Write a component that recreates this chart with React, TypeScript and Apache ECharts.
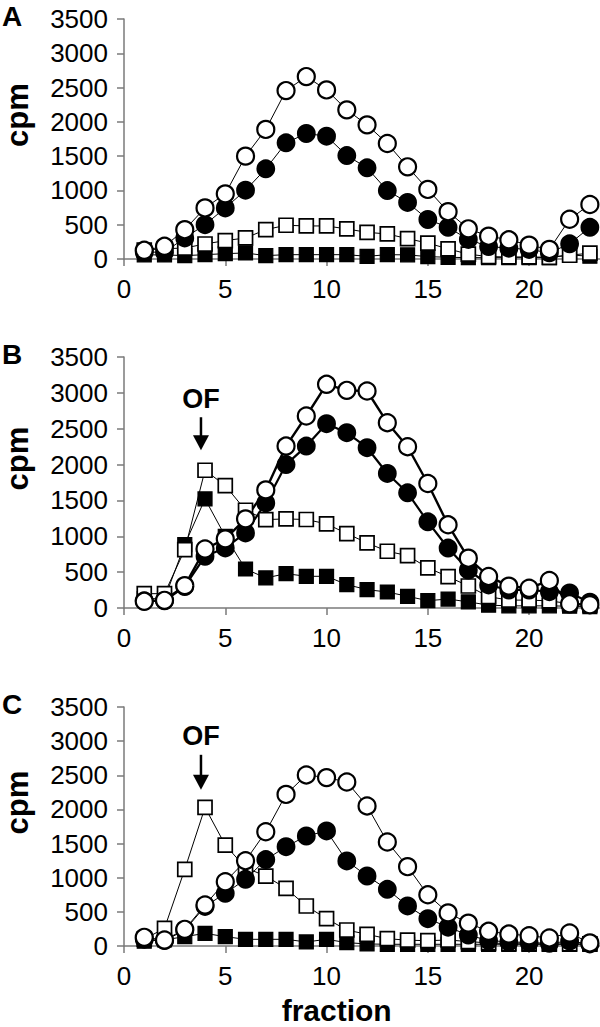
import React, { useEffect, useRef } from 'react';
import * as echarts from 'echarts';

const fractions = [1, 2, 3, 4, 5, 6, 7, 8, 9, 10, 11, 12, 13, 14, 15, 16, 17, 18, 19, 20, 21, 22, 23];
const xTickValues = [0, 5, 10, 15, 20];
const panelLetters = ['A', 'B', 'C'];

const A_openCircle = [127, 185, 428, 745, 950, 1500, 1890, 2456, 2660, 2466, 2175, 1956, 1684, 1344, 1015, 690, 440, 333, 280, 202, 140, 580, 795];
const A_filledCircle = [100, 100, 307, 501, 745, 1003, 1315, 1694, 1830, 1791, 1509, 1329, 998, 825, 576, 462, 285, 182, 158, 140, 90, 222, 462];
const A_openSquare = [130, 150, 160, 219, 268, 307, 428, 492, 482, 482, 438, 389, 365, 297, 232, 148, 70, 35, 30, 30, 25, 55, 85];
const A_filledSquare = [60, 60, 49, 63, 78, 88, 49, 63, 63, 63, 63, 39, 63, 60, 35, 25, 20, 20, 20, 20, 20, 60, 40];

const B_openCircle = [93, 107, 312, 823, 964, 1243, 1647, 2258, 2677, 3119, 3035, 3026, 2584, 2249, 1736, 1160, 695, 440, 305, 275, 384, 58, 45];
const B_filledCircle = [100, 100, 300, 721, 837, 1047, 1465, 2000, 2258, 2570, 2444, 2235, 1876, 1606, 1201, 836, 530, 321, 251, 251, 228, 210, 80];
const B_openSquare = [200, 200, 814, 1921, 1707, 1363, 1233, 1242, 1234, 1173, 1038, 908, 791, 731, 560, 437, 307, 158, 110, 110, 100, 60, 42];
const B_filledSquare = [130, 130, 884, 1521, 1000, 544, 419, 479, 442, 442, 326, 256, 223, 163, 102, 125, 85, 40, 30, 30, 30, 25, 20];

const C_openCircle = [127, 88, 244, 600, 941, 1249, 1673, 2220, 2505, 2466, 2402, 2051, 1523, 1162, 750, 485, 335, 215, 175, 150, 118, 190, 45];
const C_filledCircle = [100, 80, 230, 580, 771, 976, 1265, 1454, 1611, 1685, 1245, 1025, 830, 586, 400, 276, 160, 80, 60, 50, 40, 70, 30];
const C_openSquare = [100, 259, 1122, 2029, 1478, 1146, 1024, 844, 586, 400, 234, 171, 107, 85, 78, 88, 65, 45, 35, 30, 30, 30, 30];
const C_filledSquare = [70, 90, 137, 185, 137, 98, 98, 98, 59, 98, 49, 30, 25, 25, 25, 25, 25, 25, 25, 25, 25, 25, 25];

// OF annotation positions (data coords: x, text y, arrow top y, arrow tip y), for panels B and C
const ofAnnotations = [
  { panel: 1, x: 3.8, textY: 2920, top: 2660, tip: 2200 },
  { panel: 2, x: 3.8, textY: 3080, top: 2800, tip: 2290 },
];

export default function App() {
  const ref = useRef<HTMLDivElement>(null);
  useEffect(() => {
    document.body.style.margin = '0';
    const chart = echarts.init(ref.current!, null, { renderer: 'svg' });
    const font = "'Liberation Sans', Arial, sans-serif";
    const axisColor = '#7a7a7a';
    const grids = [
      { left: 124, top: 19, width: 476, height: 240 },
      { left: 124, top: 357, width: 476, height: 251 },
      { left: 124, top: 707, width: 476, height: 239 },
    ];
    const panels = [
      { oc: A_openCircle, fc: A_filledCircle, os: A_openSquare, fs: A_filledSquare, thick: false },
      { oc: B_openCircle, fc: B_filledCircle, os: B_openSquare, fs: B_filledSquare, thick: true },
      { oc: C_openCircle, fc: C_filledCircle, os: C_openSquare, fs: C_filledSquare, thick: false },
    ];
    const xAxes = grids.map((_, i) => ({
      type: 'value', gridIndex: i, min: 0, max: 23.5,
      axisLine: { show: true, onZero: false, lineStyle: { color: axisColor, width: 1.5 } },
      axisTick: { show: true, customValues: xTickValues, length: 7, lineStyle: { color: axisColor, width: 1.5 } },
      axisLabel: { customValues: xTickValues, fontSize: 26, color: '#000', fontFamily: font, margin: 17, formatter: (v: number) => String(v) },
      splitLine: { show: false },
    }));
    const yAxes = grids.map((_, i) => ({
      type: 'value', gridIndex: i, min: 0, max: 3500, interval: 500,
      axisLine: { show: true, lineStyle: { color: axisColor, width: 1.5 } },
      axisTick: { show: true, length: 7, lineStyle: { color: axisColor, width: 1.5 } },
      axisLabel: { fontSize: 26, color: '#000', fontFamily: font, margin: 16, formatter: (v: number) => String(v) },
      splitLine: { show: false },
    }));
    const series: any[] = [];
    panels.forEach((p, i) => {
      const mk = (arr: number[], symbol: string, fill: string, size: number, bw: number, lw: number) => ({
        type: 'line', xAxisIndex: i, yAxisIndex: i,
        data: fractions.map((f, k) => [f, arr[k]]),
        symbol, symbolSize: size, showSymbol: true, showAllSymbol: true, clip: false, silent: true,
        itemStyle: { color: fill, borderColor: '#000', borderWidth: bw },
        lineStyle: { color: '#000', width: lw },
        emphasis: { disabled: true },
      });
      series.push(mk(p.fs, 'rect', '#000', 14, 1.2, 1));
      series.push(mk(p.os, 'rect', '#fff', 14, 1.7, 1));
      series.push(mk(p.fc, 'circle', '#000', 17, 1.8, p.thick ? 2.2 : 1));
      series.push(mk(p.oc, 'circle', '#fff', 17, 2.2, p.thick ? 2.4 : 1));
    });
    chart.setOption({
      animation: false,
      backgroundColor: '#fff',
      grid: grids,
      xAxis: xAxes,
      yAxis: yAxes,
      series,
    });
    const graphics: any[] = [];
    grids.forEach((g, i) => {
      graphics.push({
        type: 'text', x: 12, y: g.top - 3,
        style: { text: panelLetters[i], font: `bold 28px ${font}`, fill: '#000', align: 'center', verticalAlign: 'middle' },
      });
      graphics.push({
        type: 'text', x: 17, y: g.top + g.height / 2 - 24, rotation: Math.PI / 2,
        style: { text: 'cpm', font: `bold 31px ${font}`, fill: '#000', align: 'center', verticalAlign: 'middle' },
      });
    });
    const fracPos = chart.convertToPixel({ xAxisIndex: 2, yAxisIndex: 2 }, [10.5, 0]) as number[];
    graphics.push({
      type: 'text', x: fracPos[0], y: 1010,
      style: { text: 'fraction', font: `bold 30px ${font}`, fill: '#000', align: 'center', verticalAlign: 'middle' },
    });
    ofAnnotations.forEach((a) => {
      const t = chart.convertToPixel({ xAxisIndex: a.panel, yAxisIndex: a.panel }, [a.x, a.textY]) as number[];
      const top = chart.convertToPixel({ xAxisIndex: a.panel, yAxisIndex: a.panel }, [a.x, a.top]) as number[];
      const tip = chart.convertToPixel({ xAxisIndex: a.panel, yAxisIndex: a.panel }, [a.x, a.tip]) as number[];
      graphics.push({
        type: 'text', x: t[0], y: t[1],
        style: { text: 'OF', font: `bold 27px ${font}`, fill: '#000', align: 'center', verticalAlign: 'middle' },
      });
      graphics.push({
        type: 'line', shape: { x1: top[0], y1: top[1], x2: tip[0], y2: tip[1] - 12 },
        style: { stroke: '#000', lineWidth: 2.5 },
      });
      graphics.push({
        type: 'polygon', shape: { points: [[tip[0] - 8, tip[1] - 15], [tip[0] + 8, tip[1] - 15], [tip[0], tip[1]]] },
        style: { fill: '#000' },
      });
    });
    chart.setOption({ graphic: graphics });
    return () => chart.dispose();
  }, []);
  return <div ref={ref} style={{ position: 'absolute', left: 0, top: 0, width: 600, height: 1027 }} />;
}
